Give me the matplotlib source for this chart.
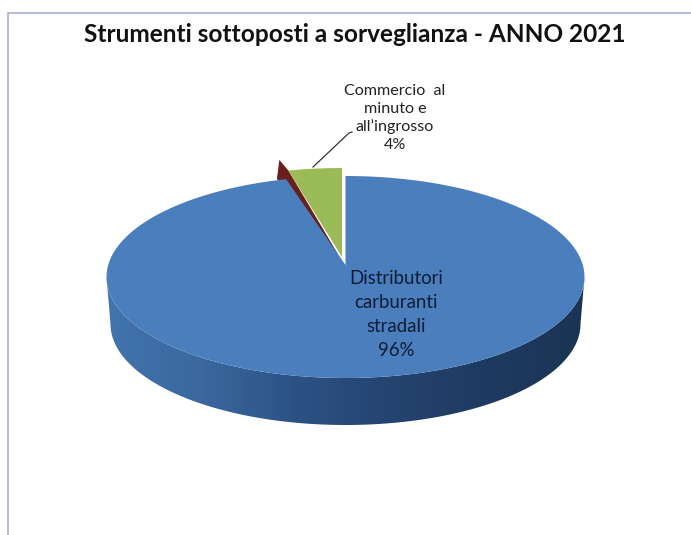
import numpy as np
import matplotlib
matplotlib.use("Agg")
import matplotlib.pyplot as plt
from matplotlib.colors import LinearSegmentedColormap
from matplotlib.patches import Polygon

title = "Strumenti sottoposti a sorveglianza - ANNO 2021"
categories = ["Distributori\ncarburanti\nstradali", "Altro", "Commercio  al\nminuto e\nall\u2019ingrosso"]
values = [96.0, 0.4, 3.6]
shown = ["96%", "", "4%"]

plt.rcParams["font.family"] = ["Lato", "DejaVu Sans"]

# rim is a plain ellipse, the apex sits higher than its middle (perspective)
cx, cy = 345.5, 277
rx, ry = 239, 101
apex_y = 265
depth = 47
green_ox, green_oy = -3.5, -8


def rim(a, k=1.0, ox=0, oy=0, rx_=rx):
    # a in degrees, clockwise from 12 o'clock
    a = np.radians(a)
    return np.column_stack([cx + ox + k * rx_ * np.sin(a), cy + oy - k * ry * np.cos(a)])


def wedge(start, end, ox=0, oy=0):
    arc = rim(np.linspace(start, end, 200), 1.0, ox, oy)
    return np.vstack([[cx + ox, apex_y + oy], arc])


fig = plt.figure(figsize=(6.91, 5.35), dpi=100)
ax = fig.add_axes([0, 0, 1, 1])

# slide frame
ax.plot([8.5, 8.5, 691], [535, 13, 13], color="#a9aed6", lw=1.2, zorder=1)

angles = np.cumsum([0] + values) / np.sum(values) * 360

# side wall of the big slice, shaded left to right
wall_top = rim(np.linspace(90, 270, 200))
wall_low = rim(np.linspace(270, 90, 200), oy=depth, rx_=rx - 4)
wall = Polygon(np.vstack([wall_top, wall_low]), closed=True, fc="none", ec="none")
ax.add_patch(wall)
cmap = LinearSegmentedColormap.from_list("wall", ["#4475ae", "#3a689f", "#2c5285", "#24436f", "#1d3a60", "#1b3454"])
img = ax.imshow(np.linspace(0, 1, 256)[None, :], extent=(100, 590, 440, 250), cmap=cmap, aspect="auto", zorder=2)
img.set_clip_path(wall)

# red sliver sits behind the other two, only its tip and a strip show
tip = rim(angles[2], k=1.16, ox=-4, oy=-3)
low = rim(angles[1] - 1.6, k=0.98, ox=-4, oy=-3)
corner = rim(angles[2], ox=green_ox, oy=green_oy)
ax.add_patch(Polygon(np.vstack([[cx + green_ox, apex_y + green_oy + 4], corner, tip, low]), closed=True, fc="#6b1f1c", ec="none", zorder=3))
ax.add_patch(Polygon(wedge(angles[0], angles[1]), closed=True, fc="#4a7ebd", ec="none", zorder=4))
ax.add_patch(Polygon(wedge(angles[2], angles[3], ox=green_ox, oy=green_oy), closed=True, fc="#9bbb59", ec="none", zorder=5))

ax.text(355, 34, title, ha="center", va="center", fontsize=17.6, fontweight="bold", color="#111111", zorder=6)
ax.text(396, 314, categories[0] + "\n" + shown[0], ha="center", va="center", fontsize=13.4, linespacing=1.5, color="#0f1c36", zorder=6)
ax.text(395, 118, categories[2] + "\n" + shown[2], ha="center", va="center", fontsize=11.6, linespacing=1.3, color="#222222", zorder=6)

# leader line
ax.plot([313, 349, 352], [167, 133, 132], color="#333333", lw=0.9, zorder=6)

ax.set_xlim(0, 691)
ax.set_ylim(535, 0)
ax.axis("off")
fig.savefig("out.png", dpi=100, facecolor="white")
